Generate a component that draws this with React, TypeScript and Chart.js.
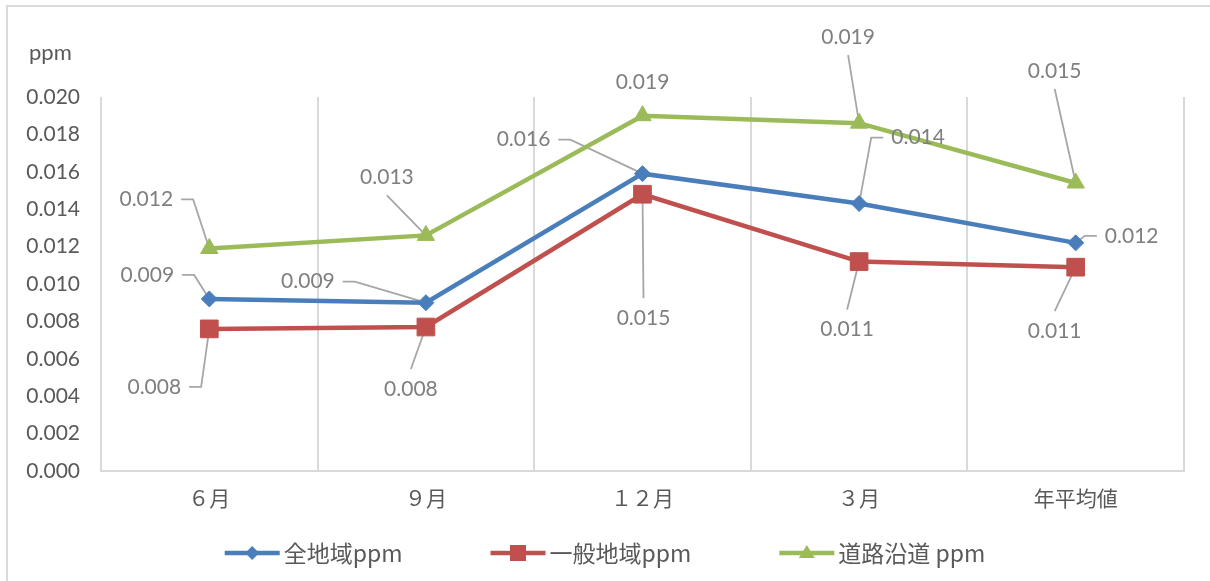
import React, { useEffect, useRef } from 'react';
import { Chart, registerables } from 'chart.js';

Chart.register(...registerables);

// ---- data ----
const categories = ['６月', '９月', '１２月', '３月', '年平均値'];
const seriesNames = ['全地域ppm', '一般地域ppm', '道路沿道 ppm'];
const allAreas = [0.0092, 0.009, 0.0159, 0.0143, 0.0122];
const generalAreas = [0.0076, 0.0077, 0.0148, 0.0112, 0.0109];
const roadside = [0.0119, 0.0126, 0.019, 0.0186, 0.0154];
const yTicks = [0, 0.002, 0.004, 0.006, 0.008, 0.01, 0.012, 0.014, 0.016, 0.018, 0.02];
const yUnit = 'ppm';

// ---- styling / label placement (pixels relative to each point) ----
const colors = ['#4A7EBB', '#C0504D', '#9BBB59'];
const pointStyles = ['rectRot', 'rect', 'triangle'];
const pointRadii = [8, 12.5, 10];
const allAreasPlace: [number, number, string][] = [[-62, -24, 'L'], [-118, -21, 'L'], [-119, -34, 'L'], [59, -66, 'R'], [56, -7, 'R']];
const generalPlace: [number, number, string][] = [[-55, 58, 'L'], [-15, 62, 'B'], [1, 124, 'B'], [-12, 68, 'B'], [-21, 64, 'B']];
const roadsidePlace: [number, number, string][] = [[-63, -49, 'L'], [-39, -58, 'A'], [0, -33, 'N'], [-11, -86, 'A'], [-21, -112, 'A']];
const placements = [allAreasPlace, generalPlace, roadsidePlace];

const LATIN = "Lato, 'Noto Sans CJK JP', sans-serif";
const CJK = "'Noto Sans CJK JP', sans-serif";
const LABEL_FONT = `21px ${LATIN}`;

const decorPlugin = {
  id: 'decor',
  beforeDraw(chart: any) {
    const ctx = chart.ctx;
    ctx.save();
    ctx.strokeStyle = '#d9d9d9';
    ctx.lineWidth = 2;
    ctx.beginPath();
    ctx.moveTo(7, chart.height);
    ctx.lineTo(7, 6);
    ctx.lineTo(chart.width, 6);
    ctx.stroke();
    ctx.fillStyle = '#595959';
    ctx.font = `22px ${LATIN}`;
    ctx.textAlign = 'left';
    ctx.textBaseline = 'alphabetic';
    ctx.fillText(yUnit, 29, 60);
    ctx.restore();
  },
  afterDraw(chart: any) {
    // legend: line + marker + text, centered
    const ctx = chart.ctx;
    ctx.save();
    ctx.font = `23px ${CJK}`;
    const lineLen = 55;
    const gapText = 4;
    const gapItem = 88;
    const widths = chart.data.datasets.map((ds: any) => lineLen + gapText + ctx.measureText(ds.label).width);
    const total = widths.reduce((a: number, b: number) => a + b, 0) + gapItem * (widths.length - 1);
    let x = chart.width / 2 - total / 2;
    const y = 553;
    chart.data.datasets.forEach((ds: any, i: number) => {
      ctx.strokeStyle = ds.borderColor;
      ctx.lineWidth = 4.5;
      ctx.beginPath();
      ctx.moveTo(x, y);
      ctx.lineTo(x + lineLen, y);
      ctx.stroke();
      const mx = x + lineLen / 2;
      ctx.fillStyle = ds.borderColor;
      ctx.beginPath();
      if (i === 0) {
        ctx.moveTo(mx, y - 7); ctx.lineTo(mx + 7, y); ctx.lineTo(mx, y + 7); ctx.lineTo(mx - 7, y);
      } else if (i === 1) {
        ctx.rect(mx - 8, y - 8, 16, 16);
      } else {
        ctx.moveTo(mx, y - 8); ctx.lineTo(mx + 8, y + 5); ctx.lineTo(mx - 8, y + 5);
      }
      ctx.closePath();
      ctx.fill();
      ctx.fillStyle = '#595959';
      ctx.textAlign = 'left';
      ctx.textBaseline = 'middle';
      ctx.fillText(ds.label, x + lineLen + gapText, y);
      x += widths[i] + gapItem;
    });
    ctx.restore();
  },
};

const labelPlugin = {
  id: 'leaderLabels',
  beforeDatasetsDraw(chart: any) {
    const ctx = chart.ctx;
    ctx.save();
    ctx.font = LABEL_FONT;
    ctx.strokeStyle = '#a6a6a6';
    ctx.lineWidth = 1.8;
    chart.data.datasets.forEach((ds: any, i: number) => {
      const meta = chart.getDatasetMeta(i);
      meta.data.forEach((pt: any, j: number) => {
        const [dx, dy, mode] = placements[i][j];
        const cx = pt.x + dx;
        const cy = pt.y + dy;
        const txt = (ds.data[j] as number).toFixed(3);
        const w = ctx.measureText(txt).width;
        ctx.beginPath();
        if (mode === 'L') {
          const sx = cx + w / 2 + 8;
          ctx.moveTo(sx, cy);
          ctx.lineTo(sx + 12, cy);
          ctx.lineTo(pt.x, pt.y);
        } else if (mode === 'R') {
          const sx = cx - w / 2 - 8;
          ctx.moveTo(sx, cy);
          ctx.lineTo(sx - 12, cy);
          ctx.lineTo(pt.x, pt.y);
        } else if (mode === 'A') {
          ctx.moveTo(cx, cy + 18);
          ctx.lineTo(pt.x, pt.y);
        } else if (mode === 'B') {
          ctx.moveTo(cx, cy - 20);
          ctx.lineTo(pt.x, pt.y);
        }
        ctx.stroke();
      });
    });
    ctx.restore();
  },
  afterDatasetsDraw(chart: any) {
    const ctx = chart.ctx;
    ctx.save();
    ctx.font = LABEL_FONT;
    ctx.fillStyle = '#7f7f7f';
    ctx.textAlign = 'center';
    ctx.textBaseline = 'middle';
    chart.data.datasets.forEach((ds: any, i: number) => {
      const meta = chart.getDatasetMeta(i);
      meta.data.forEach((pt: any, j: number) => {
        const [dx, dy] = placements[i][j];
        ctx.fillText((ds.data[j] as number).toFixed(3), pt.x + dx, pt.y + dy);
      });
    });
    ctx.restore();
  },
};

export default function App() {
  const ref = useRef<HTMLCanvasElement>(null);
  useEffect(() => {
    if (!ref.current) return;
    const series = [allAreas, generalAreas, roadside];
    const chart = new Chart(ref.current, {
      type: 'line',
      data: {
        labels: categories,
        datasets: series.map((d, i) => ({
          label: seriesNames[i],
          data: d,
          borderColor: colors[i],
          backgroundColor: colors[i],
          borderWidth: 4.5,
          pointStyle: pointStyles[i] as any,
          pointRadius: pointRadii[i],
          pointBorderWidth: 1,
          pointBackgroundColor: colors[i],
          pointBorderColor: colors[i],
          tension: 0,
          fill: false,
        })),
      },
      options: {
        animation: false,
        responsive: false,
        events: [],
        layout: { padding: { top: 97, right: 26, left: 0, bottom: 0 } },
        plugins: {
          legend: { display: false },
          tooltip: { enabled: false },
          title: { display: false },
        },
        scales: {
          x: {
            offset: true,
            grid: { display: true, offset: true, color: '#d9d9d9', lineWidth: 2, drawTicks: false },
            border: { display: true, color: '#d9d9d9', width: 2 },
            ticks: {
              color: '#595959',
              font: { family: CJK, size: 21 },
              padding: 14,
              maxRotation: 0,
              autoSkip: false,
            },
            afterFit: (s: any) => { s.height = 110; },
          },
          y: {
            min: 0,
            max: 0.02,
            grid: { display: false, drawTicks: false },
            border: { display: false },
            afterBuildTicks: (s: any) => { s.ticks = yTicks.map((v) => ({ value: v })); },
            ticks: {
              color: '#595959',
              font: { family: LATIN, size: 21 },
              padding: 21,
              callback: (v: any) => Number(v).toFixed(3),
            },
            afterFit: (s: any) => { s.width = 101; },
          },
        },
      },
      plugins: [decorPlugin, labelPlugin],
    });
    return () => chart.destroy();
  }, []);
  return (
    <div style={{ position: 'absolute', left: 0, top: 0, width: 1210, height: 581, background: '#fff' }}>
      <canvas ref={ref} width={1210} height={581} style={{ display: 'block' }} />
    </div>
  );
}
